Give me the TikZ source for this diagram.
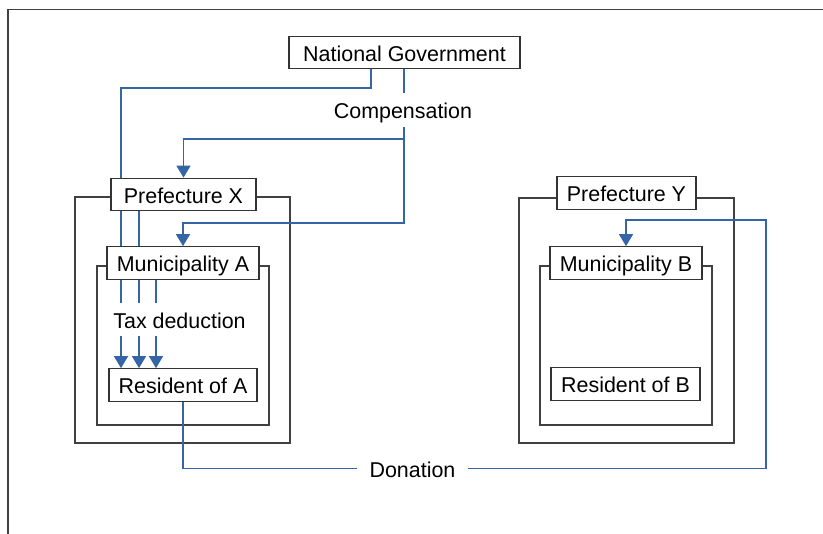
\documentclass[tikz,border=0pt]{standalone}
\usepackage{fontspec}
\setmainfont{Liberation Sans}
\usetikzlibrary{arrows.meta,backgrounds}
\definecolor{flowblue}{HTML}{3465A4}
\tikzset{
  box/.style={draw=black!80, line width=0.7pt, fill=white, minimum height=0.65cm, inner sep=0pt,
    text height=0.40cm, text depth=0.05cm},
  frame/.style={draw=black!75, line width=0.7pt},
  flow/.style={draw=flowblue, line width=0.85pt},
  tip/.style={-{Triangle[width=2.8mm,length=2.4mm]}},
  tag/.style={fill=white, inner xsep=0.25cm, inner ysep=0pt, minimum height=0.67cm,
    text height=0.40cm, text depth=0.05cm}
}
\begin{document}
\begin{tikzpicture}[x=0.02cm, y=-0.02cm, font=\fontsize{12.2}{14}\selectfont]
    \useasboundingbox (0,0) rectangle (823,534);
    \draw[black!75, line width=0.8pt] (8,534) -- (8,9.5) -- (823,9.5);

    \node[box, minimum width=4.62cm] (ng) at (404.5,52.5) {National Government};
    \node[box, minimum width=2.9cm] (px) at (183.5,194.5) {Prefecture X};
    \node[box, minimum width=3.04cm] (ma) at (183,263) {Municipality A};
    \node[box, minimum width=2.96cm] (ra) at (183,385) {Resident of A};
    \node[box, minimum width=2.78cm] (py) at (626.5,193) {Prefecture Y};
    \node[box, minimum width=3.04cm] (mb) at (626,263) {Municipality B};
    \node[box, minimum width=2.98cm] (rb) at (625.5,384) {Resident of B};

    \node[tag] (comp) at (403,110) {Compensation};
    \node[tag, inner xsep=2pt] (tax) at (179.5,319.5) {Tax deduction};
    \node[tag] (don) at (412.5,468.5) {Donation};

    \coordinate (tapL) at (371,88);
    \coordinate (leftrun) at (121,88);
    \coordinate (split) at (404,139);
    \coordinate (bendA) at (404,223);
    \coordinate (turn) at (766,220);

    \begin{scope}[on background layer]
      % nested areas
      \draw[frame] (75,197) rectangle (290,443);
      \draw[frame] (97,266) rectangle (269,425);
      \draw[frame] (519,198) rectangle (734,443);
      \draw[frame] (540,266) rectangle (712,425);
      % compensation
      \draw[flow] (ng.south -| split) -- (comp.north -| split);
      \draw[flow,tip] (comp.south -| split) -- (bendA) -| (ma.north);
      \draw[flow,tip] (split) -| (px.north);
      % tax deduction
      \draw[flow,tip] (ng.south -| tapL) -- (tapL) -- (leftrun) -- (ra.north -| leftrun);
      \draw[flow,tip] (px.south) ++(-44.5,0) coordinate (t2) -- (t2 |- ra.north);
      \draw[flow,tip] (ma.south) ++(-27,0) coordinate (t3) -- (t3 |- ra.north);
      % donation
      \draw[flow,tip] (ra.south) |- (don) -| (turn) -| (mb.north);
    \end{scope}
  \end{tikzpicture}
\end{document}
